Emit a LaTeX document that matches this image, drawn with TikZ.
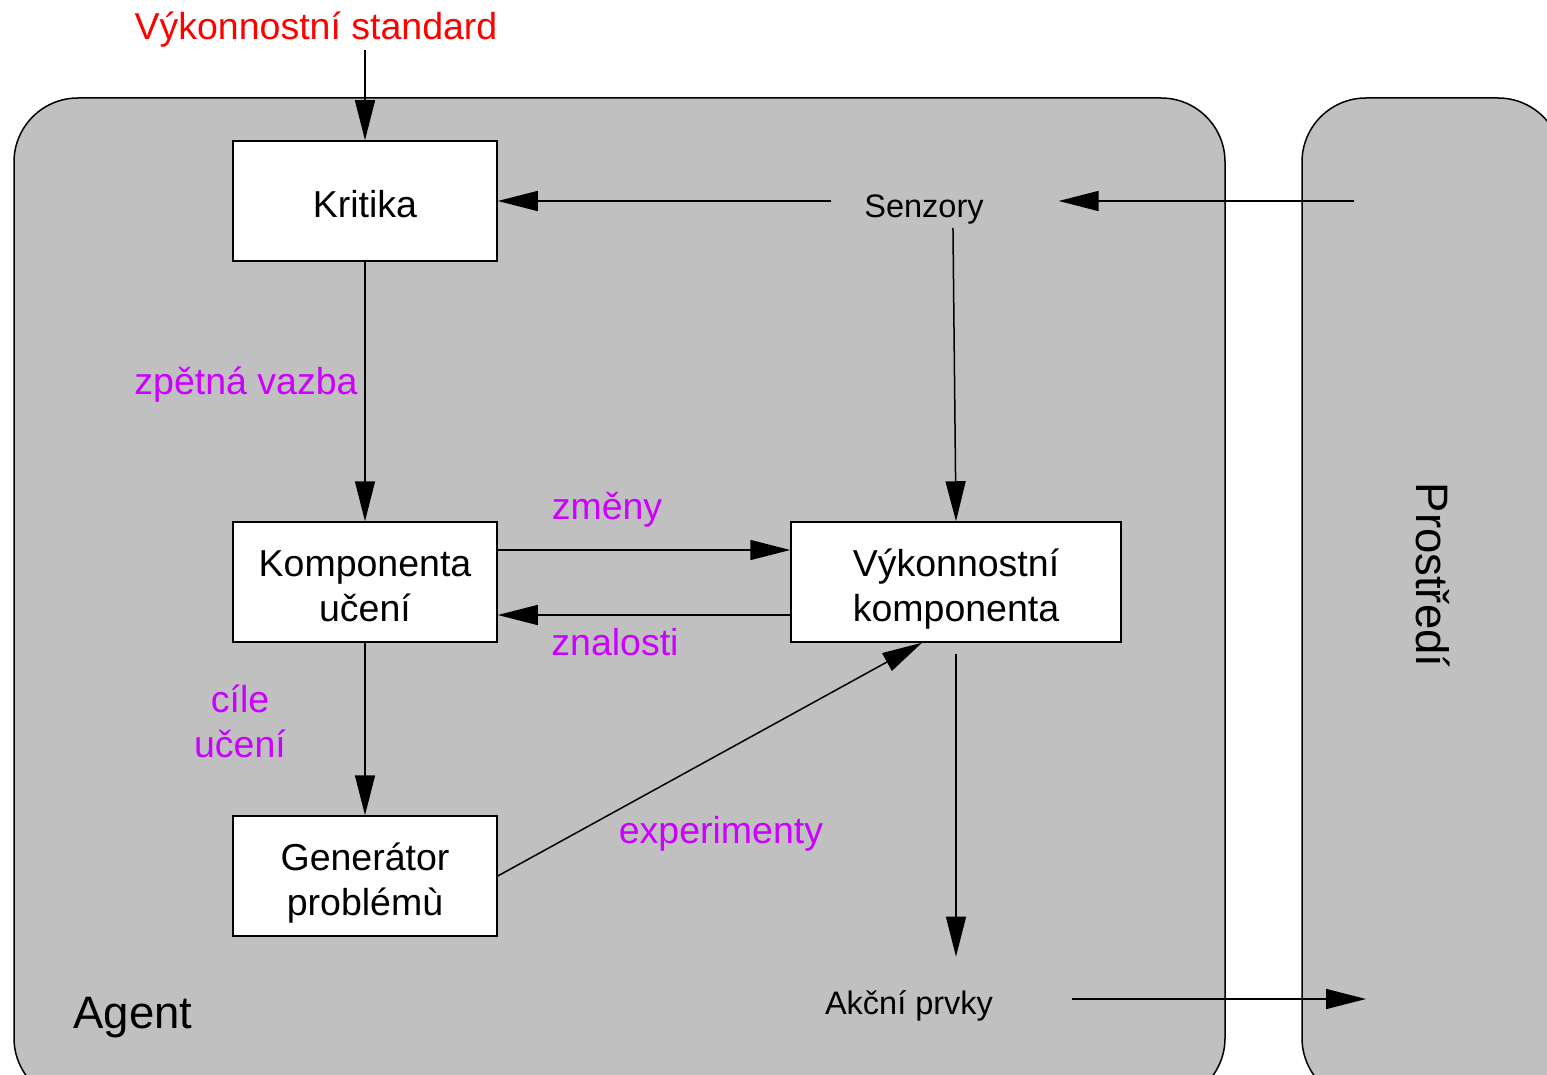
\documentclass[tikz,border=0pt]{standalone}
\usepackage{fontspec}
\setmainfont{Liberation Sans}
\usetikzlibrary{arrows.meta}
\definecolor{agentgray}{RGB}{192,192,192}
\definecolor{labelviolet}{RGB}{204,0,255}
\newcommand\boxlines[1]{\raisebox{-4pt}[\height][\depth]{\begin{tabular}{@{}c@{}}#1\end{tabular}}}
\tikzset{
  region/.style={draw,fill=agentgray,line width=0.75pt,rounded corners=32pt},
  box/.style={draw,fill=white,line width=0.75pt,minimum width=132pt,minimum height=60pt,font=\fontsize{18.75}{22.5}\selectfont},
  lbl/.style={text=labelviolet,align=center,font=\fontsize{18.75}{22.5}\selectfont},
  small/.style={font=\fontsize{16.25}{19}\selectfont},
  big/.style={font=\fontsize{22.75}{27}\selectfont},
  arr/.style={-{Triangle[length=20pt,width=10pt]},line width=0.75pt}
}
\begin{document}
\begin{tikzpicture}[x=0.5pt,y=-0.5pt]
\clip (0,0) rectangle (1547,1075);
\draw[region] (14,98) rectangle (1225,1102);
\draw[region] (1302,98) rectangle (1562,1102);
\node[text=red,inner sep=1pt,font=\fontsize{18.75}{22.5}\selectfont] (title) at (316,30) {Výkonnostní standard};
\node[box] (kritika) at (365,201) {\boxlines{Kritika}};
\node[box] (uceni) at (365,582) {\boxlines{Komponenta\\učení}};
\node[box] (gen) at (365,876) {\boxlines{Generátor\\problémù}};
\node[box,minimum width=165pt] (vykon) at (956,582) {\boxlines{Výkonnostní\\komponenta}};
\node[small] (senzory) at (924,210) {Senzory};
\node[small] (akcni) at (909,1006) {Akční prvky};
\node[big] (agent) at (133,1018) {Agent};
\node[big,rotate=-90] (prostredi) at (1433,575) {Prostředí};
\node[lbl] (zpetna) at (246,385) {zpětná vazba};
\node[lbl] (zmeny) at (607,510) {změny};
\node[lbl] (znalosti) at (615,642) {znalosti};
\node[lbl] (cile) at (240,721) {cíle\\učení};
\node[lbl] (exper) at (721,834) {experimenty};
\coordinate (envin) at (1354,201);
\coordinate (envout) at (1366,999);
\draw[arr] (title.south -| kritika.north) -- (kritika.north);
\draw[arr] (envin) -- (senzory.east |- envin) [shorten >=34pt];
\draw[arr,shorten <=13pt] (senzory.west |- kritika.east) -- (kritika.east);
\draw[arr,shorten <=-2pt] ([xshift=14.5pt]senzory.south) -- (vykon.north);
\draw[arr] (kritika.south) -- (uceni.north);
\draw[arr] (uceni.south) -- (gen.north);
\draw[arr] ([yshift=16pt]uceni.east) -- ([yshift=16pt]vykon.west);
\draw[arr] ([yshift=-16.5pt]vykon.west) -- ([yshift=-16.5pt]uceni.east);
\draw[arr] (gen.east) -- ([xshift=-17pt]vykon.south);
\draw[arr,shorten <=5.5pt,shorten >=13.5pt] (vykon.south) -- (vykon.south |- akcni.north);
\draw[arr,shorten <=36pt] (akcni.east |- envout) -- (envout);
\end{tikzpicture}
\end{document}
